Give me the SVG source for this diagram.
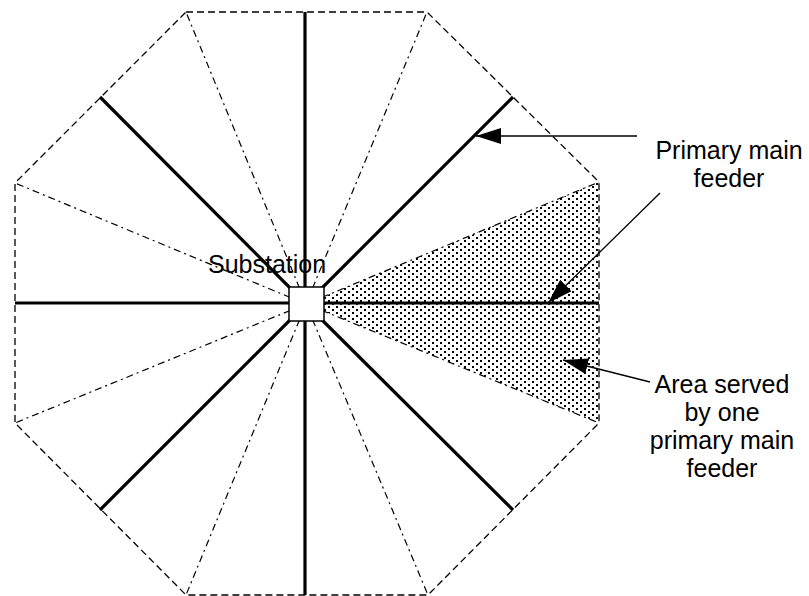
<svg xmlns="http://www.w3.org/2000/svg" width="809" height="596" viewBox="0 0 809 596">
<style>
.edge{fill:none;stroke:#000;stroke-width:1.3;stroke-dasharray:7 4}
.radial{fill:none;stroke:#000;stroke-width:1.2;stroke-dasharray:7 4 2 4}
.feeder{fill:none;stroke:#000;stroke-width:3.2}
.lead{fill:none;stroke:#000;stroke-width:1.3}
.lbl{font-family:"Liberation Sans",Arial,sans-serif;font-size:25px;fill:#000}
</style>
<defs>
<pattern id="dots" width="8" height="6" patternUnits="userSpaceOnUse">
<rect x="0" y="0" width="2" height="2" fill="#000"/>
<rect x="4" y="3" width="2" height="2" fill="#000"/>
</pattern>
<marker id="ah" markerUnits="userSpaceOnUse" markerWidth="26" markerHeight="16" refX="25" refY="8" orient="auto">
<path d="M0,0 L25,8 L0,16 Z" fill="#000"/>
</marker>
</defs>
<rect width="809" height="596" fill="#fff"/>
<g id="area">
<polygon points="306,304 599,182 599,423" fill="url(#dots)"/>
</g>
<g id="octagon">
<polygon class="edge" points="186,12 427,12 599,182 599,423 428,595 186,595 15,423 15,183"/>
</g>
<g id="radials">
<line class="radial" x1="306" y1="304" x2="186" y2="12"/>
<line class="radial" x1="306" y1="304" x2="427" y2="12"/>
<line class="radial" x1="306" y1="304" x2="599" y2="182"/>
<line class="radial" x1="306" y1="304" x2="599" y2="423"/>
<line class="radial" x1="306" y1="304" x2="428" y2="595"/>
<line class="radial" x1="306" y1="304" x2="186" y2="595"/>
<line class="radial" x1="306" y1="304" x2="15" y2="423"/>
<line class="radial" x1="306" y1="304" x2="15" y2="183"/>
</g>
<g id="feeders">
<line class="feeder" x1="305" y1="12" x2="305" y2="595"/>
<line class="feeder" x1="15" y1="303" x2="599" y2="303"/>
<line class="feeder" x1="100" y1="97" x2="306" y2="304"/>
<line class="feeder" x1="513" y1="97" x2="306" y2="304"/>
<line class="feeder" x1="513" y1="510" x2="306" y2="304"/>
<line class="feeder" x1="100" y1="510" x2="306" y2="304"/>
</g>
<g id="substation">
<rect x="289" y="287" width="35" height="34" fill="#fff" stroke="#000" stroke-width="1.5"/>
<text class="lbl" x="208" y="273">Substation</text>
</g>
<g id="connectors">
<line class="lead" x1="637" y1="136" x2="476" y2="136" marker-end="url(#ah)"/>
<line class="lead" x1="660" y1="193" x2="548" y2="303" marker-end="url(#ah)"/>
<line class="lead" x1="650" y1="382" x2="563" y2="360" marker-end="url(#ah)"/>
</g>
<g id="label-feeder">
<text class="lbl" x="729" y="159" text-anchor="middle">Primary main</text>
<text class="lbl" x="729" y="187" text-anchor="middle">feeder</text>
</g>
<g id="label-area">
<text class="lbl" x="722" y="393" text-anchor="middle">Area served</text>
<text class="lbl" x="722" y="421" text-anchor="middle">by one</text>
<text class="lbl" x="722" y="449" text-anchor="middle">primary main</text>
<text class="lbl" x="722" y="477" text-anchor="middle">feeder</text>
</g>
</svg>
